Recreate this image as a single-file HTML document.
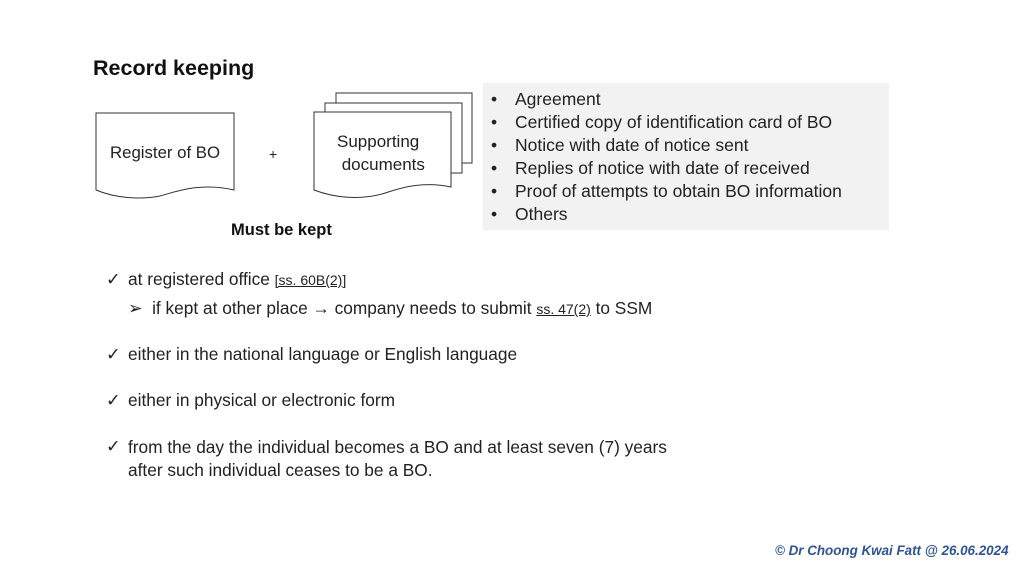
<!DOCTYPE html><html><head><style>
body{margin:0;width:1024px;height:576px;background:#fff;position:relative;font-family:"Liberation Sans",sans-serif;color:#222;overflow:hidden}
.t{position:absolute;font-size:17.3px;white-space:nowrap}
u{font-size:14px}
</style></head><body>
<div class="t" style="left:93px;top:56px;font-size:21.5px;font-weight:bold;color:#111">Record keeping</div>
<svg style="position:absolute;left:0;top:0" width="1024" height="576">
<rect x="483" y="83" width="406" height="147" fill="#f2f2f2"/>
<g fill="#fff" stroke="#333" stroke-width="1">
<path d="M96,113 H234 V190 C200,182 175,192 160,196 C140,200 115,198 96,190 Z"/>
<path d="M336,93 H472 V163 H462 V103 H336 Z"/>
<path d="M325,103 H462 V173 H451 V112 H325 Z"/>
<path d="M314,112 H451 V187 C420,180 395,190 382,194 C360,200 335,198 314,190 Z"/>
</g>
</svg>
<div class="t" style="left:110px;top:143px;font-size:16.8px">Register of BO</div>
<div class="t" style="left:269px;top:146px;font-size:14px">+</div>
<div class="t" style="left:337px;top:130px;line-height:23px;font-size:17px">Supporting<br>&nbsp;documents</div>
<div class="t" style="left:231px;top:221px;font-weight:bold;font-size:16.5px;color:#111">Must be kept</div>
<div class="t" style="left:491px;top:88px;line-height:23px;font-size:17.5px">•<br>•<br>•<br>•<br>•<br>•</div>
<div class="t" style="left:515px;top:88px;line-height:23px;font-size:17.5px">Agreement<br>Certified copy of identification card of BO<br>Notice with date of notice sent<br>Replies of notice with date of received<br>Proof of attempts to obtain BO information<br>Others</div>
<div class="t" style="left:106px;top:269px">✓</div>
<div class="t" style="left:106px;top:344px">✓</div>
<div class="t" style="left:106px;top:390px">✓</div>
<div class="t" style="left:106px;top:436px">✓</div>
<div class="t" style="left:128px;top:269px">at registered office <u>[ss. 60B(2)]</u></div>
<div class="t" style="left:128px;top:298px">➢&nbsp;&nbsp;if kept at other place → company needs to submit <u>ss. 47(2)</u> to SSM</div>
<div class="t" style="left:128px;top:344px">either in the national language or English language</div>
<div class="t" style="left:128px;top:390px">either in physical or electronic form</div>
<div class="t" style="left:128px;top:436px;line-height:23px">from the day the individual becomes a BO and at least seven (7) years<br>after such individual ceases to be a BO.</div>
<div class="t" style="left:775px;top:543px;font-size:13.4px;font-weight:bold;font-style:italic;color:#2f5496">© Dr Choong Kwai Fatt @ 26.06.2024</div>
</body></html>
